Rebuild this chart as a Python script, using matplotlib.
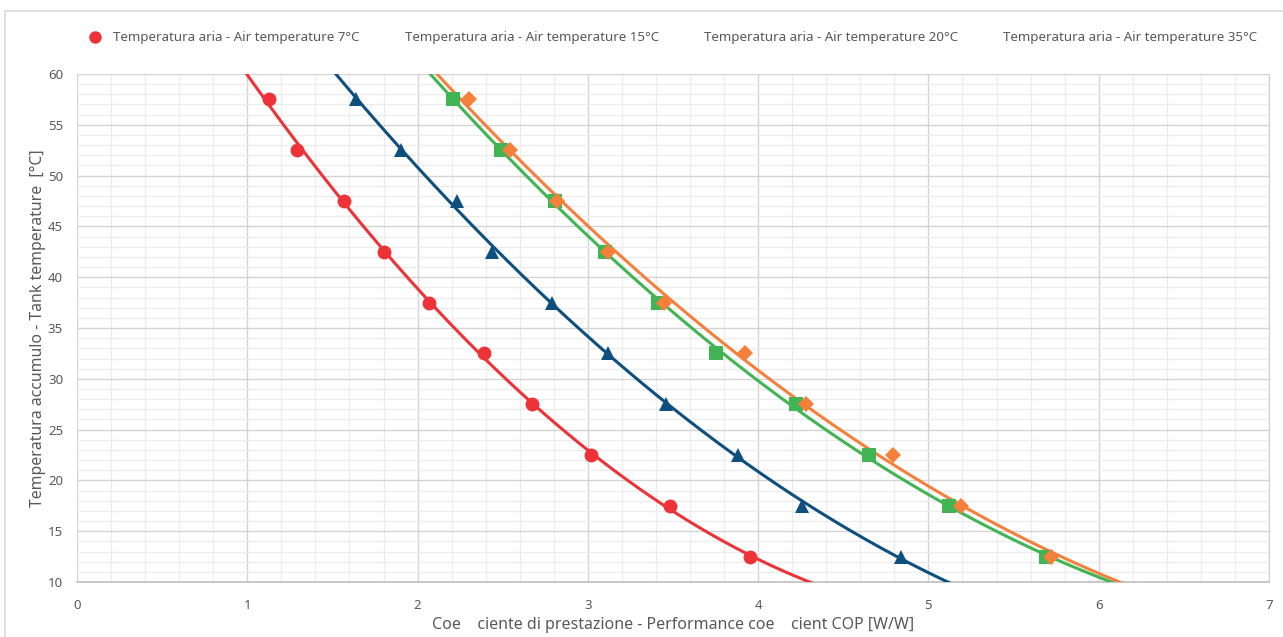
import numpy as np
import matplotlib
matplotlib.use('Agg')
import matplotlib.pyplot as plt
from matplotlib.lines import Line2D
from matplotlib.patches import Rectangle

# tank temperature for each measured point [°C]
tank_temp = [57.5, 52.5, 47.5, 42.5, 37.5, 32.5, 27.5, 22.5, 17.5, 12.5]

# COP values
cop_7 = [1.13, 1.29, 1.57, 1.80, 2.07, 2.39, 2.67, 3.02, 3.48, 3.95]
cop_15 = [1.64, 1.90, 2.23, 2.44, 2.79, 3.12, 3.46, 3.88, 4.26, 4.84]
cop_20 = [2.21, 2.49, 2.81, 3.10, 3.41, 3.75, 4.22, 4.65, 5.12, 5.69]
cop_35 = [2.30, 2.54, 2.82, 3.12, 3.45, 3.92, 4.28, 4.79, 5.19, 5.72]

labels = ['Temperatura aria - Air temperature 7°C',
          'Temperatura aria - Air temperature 15°C',
          'Temperatura aria - Air temperature 20°C',
          'Temperatura aria - Air temperature 35°C']
colors = ['#EE3338', '#0D4F7E', '#41B553', '#F5803C']
markers = ['o', '^', 's', 'D']
msizes = [10, 10, 10, 8]

plt.rcParams['font.family'] = ['Noto Sans', 'DejaVu Sans']
text_col = '#595959'

fig = plt.figure(figsize=(12.83, 6.37), dpi=100)
ax = fig.add_axes([0.060, 0.0863, 0.9291, 0.7975])

# outer chart frame
fig.patches.append(Rectangle((0.004, -0.01), 1.2, 0.993, transform=fig.transFigure,
                             fill=False, edgecolor='#d9d9d9', linewidth=1.2))

series = [cop_7, cop_15, cop_20, cop_35]
for cop, c, m, ms in zip(series, colors, markers, msizes):
    # quadratic trend line, temperature as function of COP (like Excel)
    coef = np.polyfit(cop, tank_temp, 2)
    xmax = min(7.0, -coef[1] / (2 * coef[0])) if coef[0] > 0 else 7.0
    xx = np.linspace(0, xmax, 400)
    ax.plot(xx, np.polyval(coef, xx), color=c, linewidth=2.2, zorder=3)
    ax.plot(cop, tank_temp, linestyle='none', marker=m, markersize=ms,
            color=c, markeredgewidth=0, zorder=4)

ax.set_xlim(0, 7)
ax.set_ylim(10, 60)
ax.set_xticks(np.arange(0, 8, 1))
ax.set_xticks(np.arange(0, 7.01, 0.2), minor=True)
ax.set_yticks(np.arange(10, 61, 5))
ax.set_yticks(np.arange(10, 61, 1), minor=True)
ax.grid(which='major', color='#d4d4d4', linewidth=1.0)
ax.grid(which='minor', color='#ececec', linewidth=0.9)
ax.set_axisbelow(True)
for s in ['top', 'left']:
    ax.spines[s].set_visible(False)
ax.spines['right'].set_color('#cfcfcf')
ax.spines['bottom'].set_color('#bfbfbf')
ax.spines['bottom'].set_linewidth(1.2)
ax.tick_params(which='both', length=0, labelsize=9.5, colors=text_col)
ax.tick_params(axis='x', pad=12)
ax.tick_params(axis='y', pad=10)

ax.set_xlabel('Coe    ciente di prestazione - Performance coe    cient COP [W/W]',
              fontsize=11.5, color=text_col)
ax.xaxis.set_label_coords(0.5, -0.068)
ax.set_ylabel('Temperatura accumulo - Tank temperature  [°C]',
              fontsize=11.4, color=text_col)
ax.yaxis.set_label_coords(-0.026, 0.5)

# legend: only the first series shows its marker
fig.add_artist(Line2D([95 / 1283], [1 - 37 / 637], transform=fig.transFigure,
                      linestyle='none', marker='o', markersize=9,
                      color=colors[0], markeredgewidth=0))
for lab, xpix in zip(labels, [113, 405, 704, 1003]):
    fig.text(xpix / 1283, 1 - 37 / 637, lab, fontsize=9.6, color=text_col,
             ha='left', va='center')

fig.savefig('out.png', dpi=100)
